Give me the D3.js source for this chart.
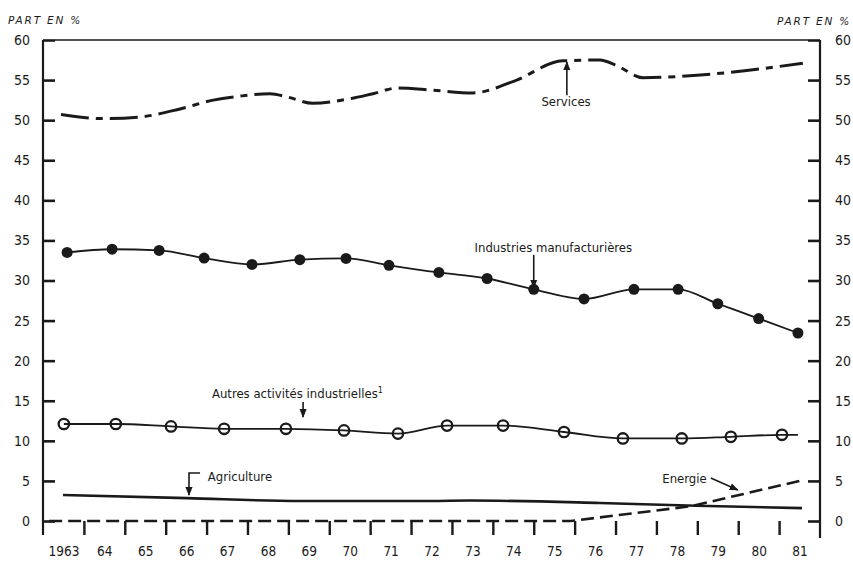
<!DOCTYPE html>
<html>
<head>
<meta charset="utf-8">
<script src="https://cdn.jsdelivr.net/npm/d3@7/dist/d3.min.js"></script>
<style>
  html, body { margin: 0; padding: 0; background: #fff; }
  svg { display: block; }
  .cond { font-family: "Liberation Sans Narrow", "DejaVu Sans Condensed", "Arial Narrow", sans-serif; font-stretch: condensed; fill: #1a1a1a; }
  .ttl { font-family: "DejaVu Sans", sans-serif; font-style: italic; fill: #1a1a1a; }
</style>
</head>
<body>
<svg id="chart" width="853" height="563"></svg>
<script>
// ---------- DATA ----------
const yearLabels = ["1963","64","65","66","67","68","69","70","71","72","73","74","75","76","77","78","79","80","81"];
const yTicks = [0,5,10,15,20,25,30,35,40,45,50,55,60];

const servicesYears = [1963.44,1964.47,1965.37,1966.35,1967.16,1967.82,1968.55,1968.97,1969.6,1970.43,1971.07,1971.66,1972.51,1973.51,1974.49,1975.71,1976.62,1977.03,1977.67,1978.99,1980.21,1981.58];
const servicesVals  = [50.7,50.2,50.4,51.4,52.5,53.0,53.3,52.9,52.1,52.6,53.3,54.0,53.75,53.4,54.8,57.4,57.5,56.8,55.3,55.6,56.2,57.1];

const industriesYears = [1963.59,1964.69,1965.84,1966.94,1968.11,1969.28,1970.41,1971.46,1972.68,1973.86,1975.0,1976.23,1977.45,1978.53,1979.5,1980.5,1981.46];
const industriesVals  = [33.5,33.9,33.75,32.8,32.0,32.6,32.75,31.9,31.0,30.25,28.9,27.7,28.9,28.9,27.1,25.25,23.45];

const autresYears = [1963.51,1964.78,1966.13,1967.43,1968.94,1970.36,1971.68,1972.88,1974.25,1975.74,1977.18,1978.62,1979.82,1981.07,1981.46];
const autresVals  = [12.1,12.1,11.8,11.5,11.5,11.3,10.9,11.9,11.9,11.1,10.3,10.3,10.5,10.75,10.75];
const autresMarkers = 14; // last point is line end only

const agricultureYears = [1963.49,1966.52,1969.28,1972.46,1973.44,1976.62,1978.99,1981.56];
const agricultureVals  = [3.25,2.85,2.5,2.5,2.55,2.25,1.9,1.6];

const energieYears = [1963.15,1975.9,1978.85,1981.5];
const energieVals  = [0,0,1.85,5.0];

// ---------- LAYOUT ----------
const svg = d3.select("#chart");
const ink = "#1a1a1a";
const x = d3.scaleLinear().domain([1963, 1982]).range([43, 820]);
const y = d3.scaleLinear().domain([0, 60]).range([521, 40]);

// frame
svg.append("line").attr("x1", x(1963)).attr("x2", x(1963)).attr("y1", y(60)).attr("y2", y(0) + 14)
  .attr("stroke", ink).attr("stroke-width", 2.2);
svg.append("line").attr("x1", x(1982)).attr("x2", x(1982)).attr("y1", y(60)).attr("y2", y(0) + 17)
  .attr("stroke", ink).attr("stroke-width", 2.2);
svg.append("line").attr("x1", x(1963) + 12).attr("x2", x(1982) - 12).attr("y1", y(60)).attr("y2", y(60))
  .attr("stroke", ink).attr("stroke-width", 1.6);

// left axis
const la = svg.append("g").attr("transform", `translate(${x(1963)},0)`)
  .call(d3.axisLeft(y).tickValues(yTicks).tickSize(-12).tickPadding(13));
la.select(".domain").remove();
la.selectAll(".tick line").attr("stroke", ink).attr("stroke-width", 2.6);
la.selectAll(".tick text").attr("class", "cond").attr("font-size", 14).style("font-family", null).attr("fill", ink);
la.attr("font-family", null);

// right axis
const ra = svg.append("g").attr("transform", `translate(${x(1982)},0)`)
  .call(d3.axisRight(y).tickValues(yTicks).tickSize(-12).tickPadding(15));
ra.select(".domain").remove();
ra.selectAll(".tick line").attr("stroke", ink).attr("stroke-width", 2.6);
ra.selectAll(".tick text").attr("class", "cond").attr("font-size", 14).attr("fill", ink);
ra.attr("font-family", null);

// x ticks (year boundaries)
const xa = svg.append("g").attr("transform", `translate(0,${y(0)})`)
  .call(d3.axisBottom(x).tickValues(d3.range(1964, 1982)).tickSize(14).tickFormat(""));
xa.select(".domain").remove();
xa.selectAll(".tick line").attr("stroke", ink).attr("stroke-width", 2.4);

// x labels (centred in each year)
const xl = svg.append("g").attr("transform", `translate(0,${y(0)})`)
  .call(d3.axisBottom(x).tickValues(d3.range(1963, 1982).map(d => d + 0.5)).tickSize(0).tickPadding(25)
    .tickFormat((d, i) => yearLabels[i]));
xl.select(".domain").remove();
xl.selectAll(".tick text").attr("class", "cond").attr("font-size", 13.5).attr("fill", ink);
xl.attr("font-family", null);

// axis titles
svg.append("text").attr("class", "ttl").attr("x", 8).attr("y", 24).attr("font-size", 10.5)
  .attr("letter-spacing", 1.8).text("PART EN %");
svg.append("text").attr("class", "ttl").attr("x", 851).attr("y", 25).attr("font-size", 10.5)
  .attr("text-anchor", "end").attr("letter-spacing", 1.8).text("PART EN %");

// ---------- SERIES ----------
const zip = (xs, vs) => xs.map((d, i) => [d, vs[i]]);
const lineSmooth = d3.line().x(d => x(d[0])).y(d => y(d[1])).curve(d3.curveMonotoneX);
const lineStraight = d3.line().x(d => x(d[0])).y(d => y(d[1]));

// Energie (dashed)
svg.append("path").attr("d", lineStraight(zip(energieYears, energieVals)))
  .attr("fill", "none").attr("stroke", ink).attr("stroke-width", 2.6).attr("stroke-dasharray", "13,6");

// Agriculture (solid)
svg.append("path").attr("d", lineSmooth(zip(agricultureYears, agricultureVals)))
  .attr("fill", "none").attr("stroke", ink).attr("stroke-width", 2.6);

// Autres activités industrielles (open circles)
const autres = zip(autresYears, autresVals);
svg.append("path").attr("d", lineSmooth(autres))
  .attr("fill", "none").attr("stroke", ink).attr("stroke-width", 1.8);
svg.selectAll(".autres").data(autres.slice(0, autresMarkers)).enter().append("circle")
  .attr("cx", d => x(d[0])).attr("cy", d => y(d[1])).attr("r", 5.2)
  .attr("fill", "none").attr("stroke", ink).attr("stroke-width", 2.3);

// Industries manufacturières (filled dots)
const ind = zip(industriesYears, industriesVals);
svg.append("path").attr("d", lineSmooth(ind))
  .attr("fill", "none").attr("stroke", ink).attr("stroke-width", 1.8);
svg.selectAll(".ind").data(ind).enter().append("circle")
  .attr("cx", d => x(d[0])).attr("cy", d => y(d[1])).attr("r", 5.5).attr("fill", ink);

// Services (dash-dot)
svg.append("path").attr("d", lineSmooth(zip(servicesYears, servicesVals)))
  .attr("fill", "none").attr("stroke", ink).attr("stroke-width", 3).attr("stroke-dasharray", "28,7,7,7");

// ---------- ANNOTATIONS ----------
const defs = svg.append("defs");
defs.append("marker").attr("id", "ah").attr("viewBox", "0 0 10 10").attr("refX", 9).attr("refY", 5)
  .attr("markerWidth", 9).attr("markerHeight", 9).attr("markerUnits", "userSpaceOnUse").attr("orient", "auto")
  .append("path").attr("d", "M0,1 L10,5 L0,9 Z").attr("fill", ink);

function arrow(pts) {
  svg.append("path").attr("d", d3.line()(pts.map(p => [x(p[0]), y(p[1])])))
    .attr("fill", "none").attr("stroke", ink).attr("stroke-width", 1.6).attr("marker-end", "url(#ah)");
}
function label(t, yr, v, anchor) {
  return svg.append("text").attr("class", "cond").attr("x", x(yr)).attr("y", y(v)).attr("dy", "0.35em")
    .attr("font-size", 13).attr("text-anchor", anchor).text(t);
}

label("Services", 1975.79, 52.3, "middle");
arrow([[1975.81, 53.1], [1975.81, 57.25]]);

label("Industries manufacturières", 1975.48, 34.18, "middle");
arrow([[1975.0, 33.2], [1975.0, 29.1]]);

const at = label("Autres activités industrielles", 1967.13, 15.97, "start");
at.append("tspan").attr("font-size", 9).attr("dy", "-0.45em").text("1");
arrow([[1969.36, 14.84], [1969.36, 12.97]]);

label("Agriculture", 1967.03, 5.6, "start");
arrow([[1966.84, 5.99], [1966.57, 5.99], [1966.57, 3.24]]);

label("Energie", 1979.23, 5.36, "end");
arrow([[1979.33, 5.36], [1979.99, 3.87]]);
</script>
</body>
</html>
